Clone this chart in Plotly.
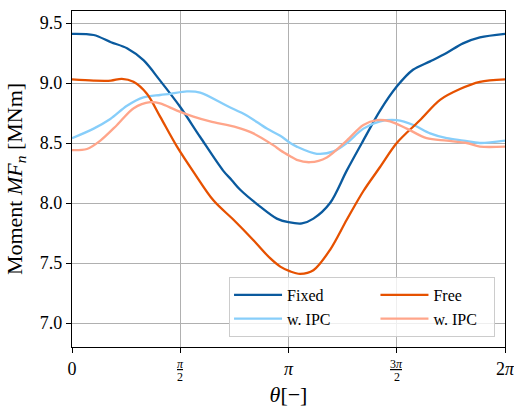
import plotly.graph_objects as go

# theta in units of pi
fixed_x = [0, 0.10, 0.18, 0.254, 0.33, 0.407, 0.50, 0.592, 0.698, 0.738, 0.777, 0.869, 0.946, 1.0, 1.062,
           1.115, 1.192, 1.269, 1.345, 1.423, 1.5, 1.575, 1.654, 1.73, 1.806, 1.884, 2.0]
fixed_y = [9.41, 9.40, 9.34, 9.29, 9.19, 9.02, 8.80, 8.55, 8.27, 8.19, 8.11, 7.97, 7.87, 7.84, 7.83,
           7.87, 8.00, 8.27, 8.52, 8.77, 8.97, 9.11, 9.18, 9.25, 9.33, 9.38, 9.41]

free_x = [0, 0.10, 0.18, 0.23, 0.284, 0.346, 0.407, 0.485, 0.561, 0.654, 0.746, 0.838, 0.915, 0.962, 1.008,
          1.054, 1.115, 1.192, 1.269, 1.346, 1.423, 1.5, 1.607, 1.7, 1.792, 1.884, 2.0]
free_y = [9.03, 9.02, 9.02, 9.035, 9.01, 8.91, 8.72, 8.47, 8.26, 8.02, 7.86, 7.69, 7.54, 7.47, 7.43,
          7.41, 7.44, 7.61, 7.86, 8.10, 8.30, 8.50, 8.69, 8.86, 8.95, 9.01, 9.03]

fixed_ipc_x = [0, 0.10, 0.177, 0.254, 0.33, 0.407, 0.454, 0.531, 0.592, 0.715, 0.807, 0.9, 0.962, 1.008,
               1.038, 1.131, 1.208, 1.269, 1.346, 1.423, 1.5, 1.577, 1.654, 1.731, 1.808, 1.884, 2.0]
fixed_ipc_y = [8.54, 8.62, 8.70, 8.81, 8.88, 8.90, 8.91, 8.93, 8.92, 8.81, 8.73, 8.62, 8.56, 8.50,
               8.47, 8.41, 8.43, 8.50, 8.62, 8.68, 8.69, 8.65, 8.58, 8.54, 8.52, 8.50, 8.52]

free_ipc_x = [0, 0.069, 0.131, 0.208, 0.285, 0.361, 0.407, 0.485, 0.561, 0.638, 0.761, 0.838, 0.931, 0.962,
              1.008, 1.038, 1.1, 1.177, 1.269, 1.346, 1.408, 1.469, 1.546, 1.638, 1.731, 1.823, 1.884, 2.0]
free_ipc_y = [8.44, 8.45, 8.52, 8.65, 8.79, 8.84, 8.83, 8.77, 8.72, 8.68, 8.63, 8.58, 8.48, 8.44,
              8.39, 8.36, 8.34, 8.38, 8.52, 8.65, 8.69, 8.68, 8.62, 8.54, 8.52, 8.50, 8.47, 8.47]

tick_vals = [0, 0.5, 1, 1.5, 2]
tick_text = ["0", "", "<i>π</i>", "", "2<i>π</i>"]
frac_vals = [0.5, 1.5]
frac_num = ["<u><i>π</i></u>", "<u>3<i>π</i></u>"]
frac_den = ["2", "2"]
y_ticks = [7.0, 7.5, 8.0, 8.5, 9.0, 9.5]

FONT = "Liberation Serif"

fig = go.Figure()
series = [
    ("Fixed", fixed_x, fixed_y, "#0a5a9e", "fixed"),
    ("w. IPC" + "&nbsp;" * 10, fixed_ipc_x, fixed_ipc_y, "#87cefa", "fixed"),
    ("Free", free_x, free_y, "#e65100", "free"),
    ("w. IPC" + "&nbsp;" * 3, free_ipc_x, free_ipc_y, "#ffa58a", "free"),
]
for name, xs, ys, col, grp in series:
    fig.add_trace(go.Scatter(x=xs, y=ys, mode="lines", name=name, legendgroup=grp,
                             line=dict(color=col, width=2.3, shape="spline", smoothing=0.9)))

for xv, num, den in zip(frac_vals, frac_num, frac_den):
    fig.add_annotation(x=xv, xref="x", y=0, yref="paper", yanchor="middle", yshift=-17,
                       text=num, showarrow=False, font=dict(family=FONT, size=12))
    fig.add_annotation(x=xv, xref="x", y=0, yref="paper", yanchor="middle", yshift=-30,
                       text=den, showarrow=False, font=dict(family=FONT, size=12))

fig.update_layout(
    width=514, height=407,
    margin=dict(l=72, r=9, t=11, b=60, autoexpand=False),
    plot_bgcolor="white", paper_bgcolor="white",
    font=dict(family=FONT, size=18, color="black"),
    legend=dict(orientation="h", x=0.977, y=0.03, xanchor="right", yanchor="bottom",
                bgcolor="rgba(255,255,255,0.8)", bordercolor="#cccccc", borderwidth=1,
                itemwidth=48, font=dict(family=FONT, size=16)),
    xaxis=dict(range=[0, 2], tickvals=tick_vals, ticktext=tick_text, automargin=False,
               ticklabeloverflow="allow",
               showgrid=True, gridcolor="#b0b0b0", gridwidth=1.2,
               showline=True, linecolor="black", linewidth=1.2, mirror=True,
               ticks="outside", ticklen=5, tickcolor="black",
               zeroline=False,
               title=dict(text="<i>θ</i>[−]", standoff=13)),
    yaxis=dict(range=[6.8, 9.6], tickvals=y_ticks, ticktext=["%.1f" % v for v in y_ticks],
               automargin=False, ticklabeloverflow="allow",
               showgrid=True, gridcolor="#b0b0b0", gridwidth=1.2,
               showline=True, linecolor="black", linewidth=1.2, mirror=True,
               ticks="outside", ticklen=5, tickcolor="black",
               zeroline=False,
               title=dict(text="Moment <i>MF</i><sub><i>n</i></sub> [MNm]", standoff=11)),
)

fig.write_html("out.html")
